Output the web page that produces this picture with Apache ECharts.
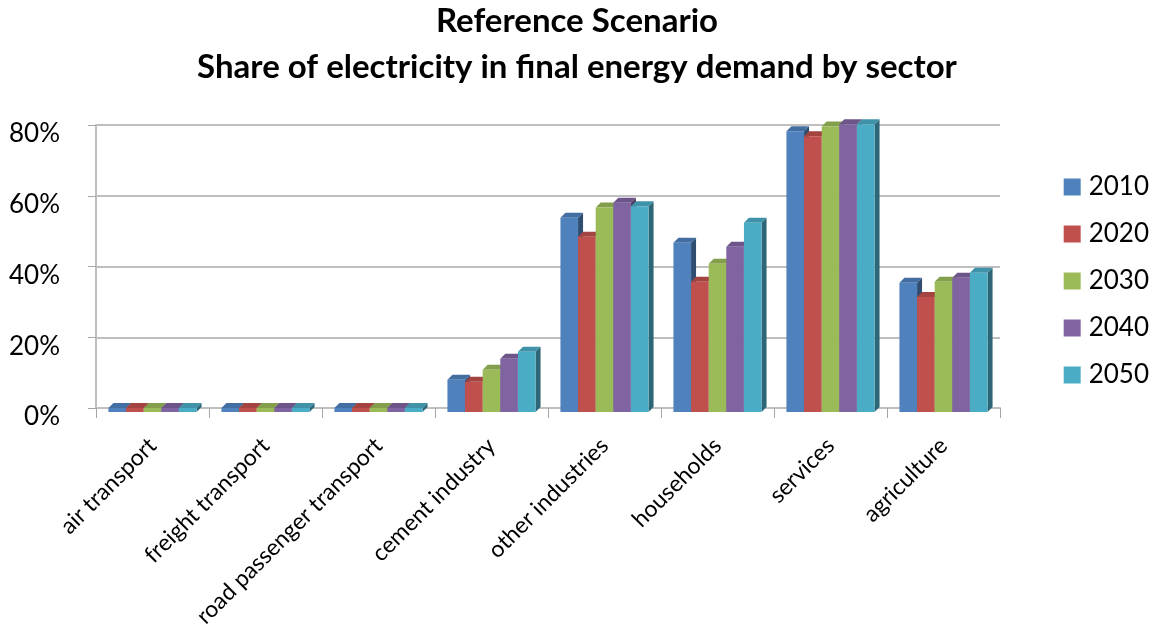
<!DOCTYPE html>
<html>
<head>
<meta charset="utf-8">
<script src="https://cdn.jsdelivr.net/npm/echarts@6/dist/echarts.min.js"></script>
<style>
  html, body { margin: 0; padding: 0; background: #fff; }
  #chart { width: 1168px; height: 632px; }
</style>
</head>
<body>
<div id="chart"></div>
<script>
const sectors = ['air transport', 'freight transport', 'road passenger transport', 'cement industry',
    'other industries', 'households', 'services', 'agriculture'];
const years = ['2010', '2020', '2030', '2040', '2050'];
const share2010 = [0, 0, 0, 8.0, 53.8, 46.7, 78.2, 35.4];
const share2020 = [0, 0, 0, 7.4, 48.4, 35.7, 76.8, 31.4];
const share2030 = [0, 0, 0, 10.8, 56.7, 40.8, 79.6, 35.7];
const share2040 = [0, 0, 0, 13.9, 58.0, 45.6, 80.2, 36.8];
const share2050 = [0, 0, 0, 15.9, 57.0, 52.4, 80.2, 38.2];
const yTicks = [0, 20, 40, 60, 80];

const colors = ['#4F81BD', '#C0504D', '#9BBB59', '#8064A2', '#4BACC6'];
const allShares = [share2010, share2020, share2030, share2040, share2050];

// darken / lighten a hex colour for the 3d faces
function shade(hex, f) {
    const n = parseInt(hex.slice(1), 16);
    let r = n >> 16, g = (n >> 8) & 255, b = n & 255;
    if (f < 0) { r *= 1 + f; g *= 1 + f; b *= 1 + f; }
    else { r += (255 - r) * f; g += (255 - g) * f; b += (255 - b) * f; }
    return 'rgb(' + Math.round(r) + ',' + Math.round(g) + ',' + Math.round(b) + ')';
}

function bar3d(idx) {
    const col = colors[idx];
    return function (params, api) {
        const cat = api.value(0);
        const top = api.coord([cat, api.value(1)]);
        const base = api.coord([cat, 0]);
        const band = api.size([1, 0])[0];
        const groupW = band * 0.78;
        const w = groupW / years.length;
        const x0 = top[0] - groupW / 2 + idx * w;
        const x1 = x0 + w;
        const d = 5;
        const y0 = top[1], yb = base[1] + 4;
        return {
            type: 'group',
            children: [
                { type: 'polygon', shape: { points: [[x1, y0], [x1 + d, y0 - d], [x1 + d, yb - d], [x1, yb]] },
                  style: { fill: shade(col, -0.4) } },
                { type: 'polygon', shape: { points: [[x0, y0], [x0 + d, y0 - d], [x1 + d, y0 - d], [x1, y0]] },
                  style: { fill: shade(col, -0.15) } },
                { type: 'rect', shape: { x: x0, y: y0, width: w, height: yb - y0 },
                  style: { fill: col } }
            ]
        };
    };
}

const chart = echarts.init(document.getElementById('chart'));
chart.setOption({
    animation: false,
    textStyle: { fontFamily: 'Lato' },
    title: {
        text: 'Reference Scenario\nShare of electricity in final energy demand by sector',
        left: 572,
        textAlign: 'center',
        top: -7,
        textStyle: { fontSize: 33, fontWeight: 'bold', lineHeight: 46, color: '#000', fontFamily: 'Lato' }
    },
    legend: {
        orient: 'vertical',
        right: 14,
        top: 168,
        itemWidth: 17,
        itemHeight: 17,
        itemGap: 19,
        icon: 'rect',
        data: years.map((y, i) => ({ name: y, itemStyle: { color: colors[i] } })),
        textStyle: { fontSize: 26, lineHeight: 28, color: '#000', fontFamily: 'Lato', padding: [0, 0, 0, 3] }
    },
    grid: { left: 96, right: 168, top: 125, bottom: 224, containLabel: false },
    xAxis: {
        type: 'category',
        data: sectors,
        axisLine: { lineStyle: { color: '#bfbfbf', width: 2 } },
        axisTick: { show: true, length: 10, lineStyle: { color: '#a6a6a6' } },
        axisLabel: { rotate: 45, fontSize: 23, color: '#000', margin: 34, interval: 0 },
        splitLine: { show: false }
    },
    yAxis: {
        type: 'value',
        min: yTicks[0],
        max: yTicks[yTicks.length - 1],
        interval: 20,
        axisLine: { show: true, lineStyle: { color: '#bfbfbf', width: 2 } },
        axisTick: { show: true, length: 8, lineStyle: { color: '#a6a6a6' } },
        axisLabel: { formatter: '{value}%', fontSize: 26, color: '#000', margin: 36,
            verticalAlign: 'top', lineHeight: 18 },
        splitLine: { lineStyle: { color: '#bfbfbf', width: 2 } }
    },
    series: years.map((y, i) => ({
        name: y,
        type: 'custom',
        renderItem: bar3d(i),
        itemStyle: { color: colors[i] },
        encode: { x: 0, y: 1 },
        data: allShares[i].map((v, k) => [k, v])
    }))
});
</script>
</body>
</html>
